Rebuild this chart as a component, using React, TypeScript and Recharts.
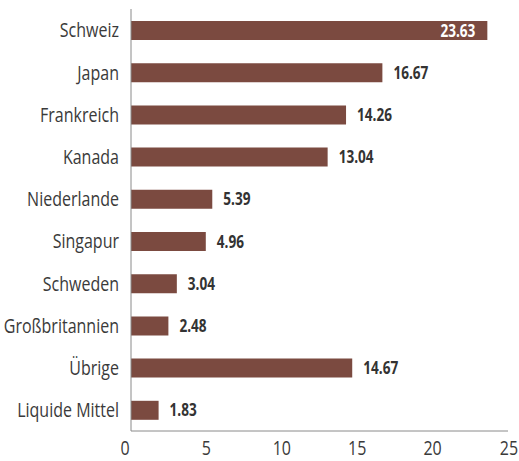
import { BarChart, Bar, XAxis, YAxis, LabelList } from "recharts";

const categories = [
  "Schweiz",
  "Japan",
  "Frankreich",
  "Kanada",
  "Niederlande",
  "Singapur",
  "Schweden",
  "Großbritannien",
  "Übrige",
  "Liquide Mittel",
];
const values = [23.63, 16.67, 14.26, 13.04, 5.39, 4.96, 3.04, 2.48, 14.67, 1.83];
const xTicks = [0, 5, 10, 15, 20, 25];

const data = categories.map((name, i) => ({ name, value: values[i] }));

const FONT = '"Open Sans", "Liberation Sans", sans-serif';
const BAR_COLOR = "#7b4a40";
const NARROW = 0.8; // no condensed font installed, squeeze horizontally

const ValueLabel = (props: any) => {
  const { x, y, width, height, value } = props;
  const inside = value > 20;
  const end = x + width;
  const tx = inside ? end - 12 : end + 11;
  return (
    <text
      transform={`translate(${tx},${y + height / 2}) scale(${NARROW},1)`}
      dy="0.36em"
      textAnchor={inside ? "end" : "start"}
      fill={inside ? "#ffffff" : "#333333"}
      fontFamily={FONT}
      fontWeight="bold"
      fontSize={17}
    >
      {value.toFixed(2)}
    </text>
  );
};

const XTick = (props: any) => {
  const { x, y, payload, index } = props;
  const shift = index === 0 ? -6 : index === xTicks.length - 1 ? 1 : 0;
  return (
    <text
      transform={`translate(${x + shift},${y}) scale(${NARROW},1)`}
      dy="0.71em"
      textAnchor="middle"
      fill="#3a3a3a"
      fontFamily={FONT}
      fontSize={20}
    >
      {payload.value}
    </text>
  );
};

const YTick = (props: any) => {
  const { x, y, payload } = props;
  return (
    <text
      transform={`translate(${x},${y}) scale(${NARROW},1)`}
      dy="0.36em"
      textAnchor="end"
      fill="#3a3a3a"
      fontFamily={FONT}
      fontSize={20}
    >
      {payload.value}
    </text>
  );
};

export default function App() {
  return (
    <div style={{ position: "absolute", left: 0, top: 0 }}>
      <BarChart
        width={519}
        height={461}
        data={data}
        layout="vertical"
        margin={{ top: 9, right: 11, bottom: 0, left: 0 }}
      >
        <XAxis
          type="number"
          domain={[0, 25]}
          ticks={xTicks}
          interval={0}
          height={30}
          tickLine={false}
          tickSize={0}
          tickMargin={10}
          axisLine={{ stroke: "#8a8a8a", strokeWidth: 1 }}
          tick={<XTick />}
        />
        <YAxis
          type="category"
          dataKey="name"
          width={131}
          interval={0}
          tickLine={false}
          tickSize={0}
          tickMargin={12}
          axisLine={{ stroke: "#8a8a8a", strokeWidth: 1 }}
          tick={<YTick />}
        />
        <Bar dataKey="value" fill={BAR_COLOR} barSize={19} isAnimationActive={false}>
          <LabelList dataKey="value" content={<ValueLabel />} />
        </Bar>
      </BarChart>
    </div>
  );
}
